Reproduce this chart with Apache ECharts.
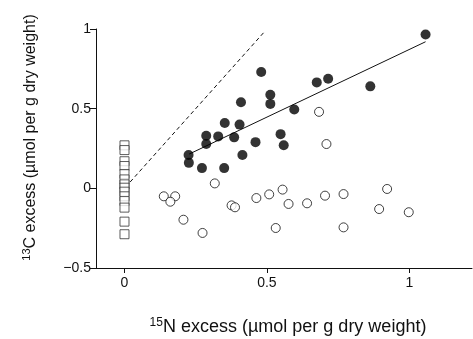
<!DOCTYPE html>
<html><head><meta charset="utf-8">
<script src="https://cdn.jsdelivr.net/npm/echarts@6/dist/echarts.min.js"></script>
<style>html,body{margin:0;padding:0;background:#fff}#c{width:473px;height:339px}</style>
</head><body><div id="c"></div>
<script>
// Data
const filledPoints = [
  [0.48,0.73],[0.512,0.587],[0.512,0.53],[0.409,0.54],[0.352,0.41],[0.404,0.40],
  [0.287,0.33],[0.329,0.326],[0.385,0.32],[0.548,0.34],[1.057,0.966],[0.675,0.665],
  [0.715,0.688],[0.863,0.64],[0.596,0.495],[0.46,0.29],[0.559,0.27],[0.287,0.278],
  [0.225,0.209],[0.226,0.16],[0.272,0.127],[0.35,0.127],[0.414,0.209]
];
const openPoints = [
  [0.683,0.48],[0.709,0.278],[0.317,0.031],[0.138,-0.05],[0.178,-0.05],[0.161,-0.084],
  [0.207,-0.197],[0.274,-0.28],[0.376,-0.107],[0.388,-0.119],[0.463,-0.061],[0.508,-0.038],
  [0.555,-0.008],[0.576,-0.098],[0.531,-0.249],[0.641,-0.094],[0.704,-0.046],[0.769,-0.036],
  [0.769,-0.245],[0.922,-0.004],[0.894,-0.13],[0.998,-0.15]
];
const squareX = 0;
const squareY = [0.27,0.24,0.17,0.14,0.09,0.056,0.025,0.004,-0.021,-0.05,-0.08,-0.121,-0.209,-0.288];
const regressionLine = [[0.227,0.215],[1.057,0.92]];
const dashedLine = [[0.02,0.04],[0.49,0.98]];
const xTicks = [0,0.5,1];
const yTicks = [-0.5,0,0.5,1];

const font = 'Liberation Sans, Arial, Helvetica, sans-serif';
const chart = echarts.init(document.getElementById('c'));
chart.setOption({
  animation:false,
  grid:{left:96,top:29,right:1,bottom:71,containLabel:false,outerBoundsMode:'none'},
  xAxis:{
    type:'value',min:-0.1,max:1.22,
    name:'{sup|15}N excess (µmol per g dry weight)',
    nameLocation:'middle',nameGap:49,
    nameTextStyle:{color:'#111',fontSize:18,fontFamily:font,padding:[0,0,0,8],
      rich:{sup:{fontSize:12,padding:[0,0,9,0],color:'#111',fontFamily:font}}},
    axisLine:{onZero:false,lineStyle:{color:'#111',width:1}},
    axisTick:{show:true,inside:false,length:5,customValues:xTicks,lineStyle:{color:'#111',width:1}},
    axisLabel:{customValues:xTicks,color:'#111',fontSize:14,fontFamily:font,margin:8,
      formatter:v=>String(v)},
    splitLine:{show:false}
  },
  yAxis:{
    type:'value',min:-0.5,max:1,interval:0.5,
    name:'{sup|13}C excess (µmol per g dry weight)',
    nameLocation:'middle',nameGap:56,
    nameTextStyle:{color:'#111',fontSize:16,fontFamily:font,padding:[0,0,0,22],
      rich:{sup:{fontSize:11,padding:[0,0,8,0],color:'#111',fontFamily:font}}},
    axisLine:{show:true,onZero:false,lineStyle:{color:'#111',width:1}},
    axisTick:{show:true,inside:false,length:6,customValues:yTicks,lineStyle:{color:'#111'}},
    axisLabel:{customValues:yTicks,color:'#111',fontSize:14,fontFamily:font,margin:5,
      formatter:v=>(v<0?'\u2212'+String(-v):String(v))},
    splitLine:{show:false}
  },
  series:[
    {type:'line',data:dashedLine,showSymbol:false,symbol:'none',
      lineStyle:{color:'#111',width:1,type:[4,3]},z:1},
    {type:'line',data:regressionLine,showSymbol:false,symbol:'none',
      lineStyle:{color:'#111',width:1},z:1},
    {type:'scatter',data:squareY.map(y=>[squareX,y]),symbol:'rect',symbolSize:9,
      itemStyle:{color:'#fff',borderColor:'#333',borderWidth:1},z:2},
    {type:'scatter',data:openPoints,symbol:'circle',symbolSize:9,
      itemStyle:{color:'#fff',borderColor:'#111',borderWidth:1},z:3},
    {type:'scatter',data:filledPoints,symbol:'circle',symbolSize:10,
      itemStyle:{color:'#000'},z:4}
  ]
});
</script></body></html>
